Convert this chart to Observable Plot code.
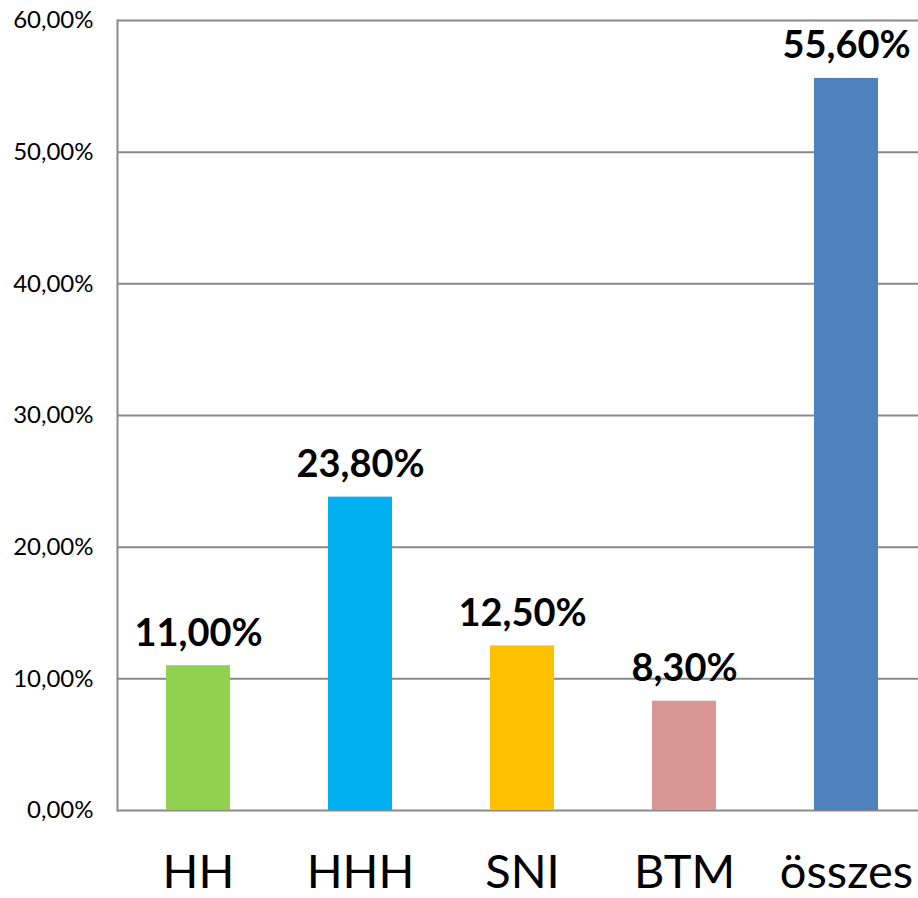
<!DOCTYPE html>
<html>
<head>
<meta charset="utf-8">
<script src="https://cdn.jsdelivr.net/npm/d3@7"></script>
<script src="https://cdn.jsdelivr.net/npm/@observablehq/plot@0.6"></script>
<style>
  body { margin: 0; background: #fff; }
  svg { font-family: Lato, "Open Sans", sans-serif; }
</style>
</head>
<body>
<div id="chart"></div>
<script>
const categories = ["HH", "HHH", "SNI", "BTM", "összes"];
const values = [11.0, 23.8, 12.5, 8.3, 55.6];
const colors = ["#92D050", "#00B0F0", "#FFC000", "#D99694", "#4F81BD"];
const yTicks = [0, 10, 20, 30, 40, 50, 60];

const data = categories.map((c, i) => ({cat: c, value: values[i], color: colors[i]}));
const fmt = (d, digits) => d.toFixed(digits).replace(".", ",") + "%";

const chart = Plot.plot({
  width: 918,
  height: 898,
  marginLeft: 117,
  marginRight: 0,
  marginTop: 20,
  marginBottom: 88,
  x: {domain: categories, range: [117, 927], paddingInner: 0.605, paddingOuter: 0.3025, label: null},
  y: {domain: [0, 60], label: null},
  marks: [
    Plot.ruleY(yTicks, {stroke: "#898989", strokeWidth: 2}),
    Plot.barY(data, {x: "cat", y: "value", fill: "color"}),
    Plot.frame({anchor: "left", stroke: "#898989", strokeWidth: 2}),
    Plot.text(data, {x: "cat", y: "value", text: d => fmt(d.value, 2), lineAnchor: "bottom", dy: -20, fontSize: 38, fontWeight: "bold", fill: "#000"}),
    Plot.axisY({ticks: yTicks, tickSize: 0, tickPadding: 24, fontSize: 24, tickFormat: d => fmt(d, 2), label: null, color: "#000"}),
    Plot.axisX({tickSize: 0, tickPadding: 44, fontSize: 47, label: null, color: "#000"})
  ]
});
document.getElementById("chart").appendChild(chart);
</script>
</body>
</html>
